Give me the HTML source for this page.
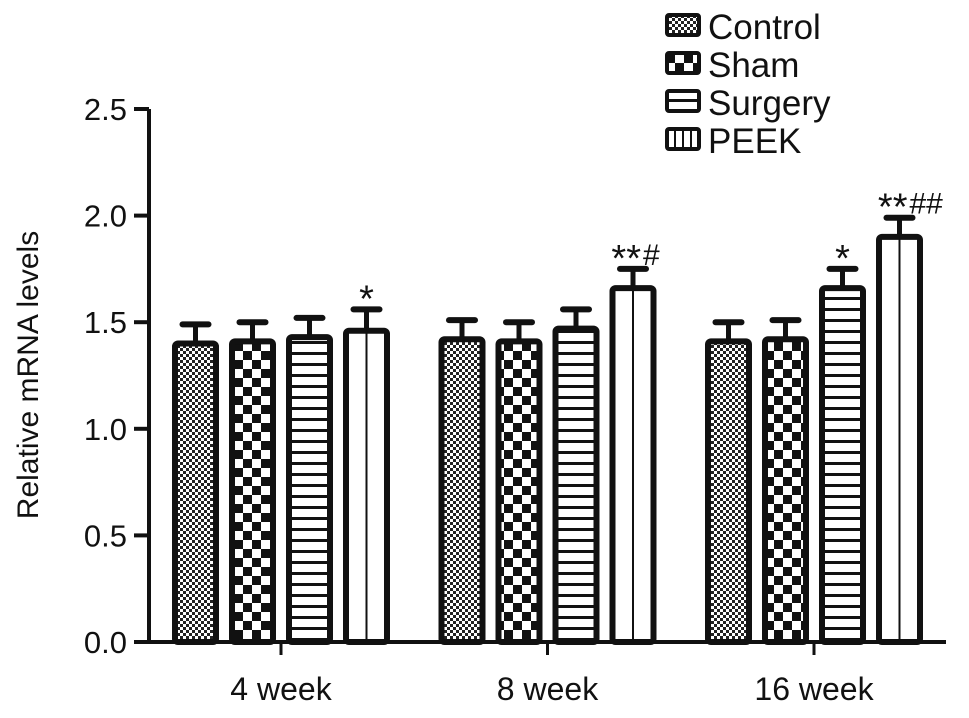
<!DOCTYPE html>
<html><head><meta charset="utf-8"><style>
body{margin:0;background:#fff}
svg text{font-family:"Liberation Sans",Arial,sans-serif;fill:#111}
</style></head><body>
<svg id="chart" width="969" height="713" viewBox="0 0 969 713" xmlns="http://www.w3.org/2000/svg">
<defs>
<pattern id="p0" width="6" height="6" patternUnits="userSpaceOnUse"><rect width="6" height="6" fill="#fff"/><rect x="0" y="0" width="3" height="3" fill="#222"/><rect x="3" y="3" width="3" height="3" fill="#222"/></pattern>
<pattern id="p1" width="18" height="18" patternUnits="userSpaceOnUse"><rect width="18" height="18" fill="#fff"/><rect x="0" y="0" width="9" height="9" fill="#111"/><rect x="9" y="9" width="9" height="9" fill="#111"/></pattern>
<pattern id="p2" width="10" height="11" patternUnits="userSpaceOnUse"><rect width="10" height="11" fill="#fff"/><rect x="0" y="0" width="10" height="3" fill="#111"/></pattern>
<pattern id="p3" width="12" height="10" patternUnits="userSpaceOnUse"><rect width="12" height="10" fill="#fff"/><rect x="0" y="0" width="3" height="10" fill="#111"/></pattern>
</defs>
<g id="axes"></g>
<g id="bars"></g>
<g id="legend"></g>
<text transform="translate(38,375) rotate(-90)" text-anchor="middle" font-size="30">Relative mRNA levels</text>
</svg>
<script>
const categories = ["4 week","8 week","16 week"];
const series = ["Control","Sham","Surgery","PEEK"];
const control = [1.40,1.42,1.41];
const sham = [1.41,1.41,1.42];
const surgery = [1.43,1.47,1.66];
const peek = [1.46,1.66,1.90];
const controlErr = [0.09,0.09,0.09];
const shamErr = [0.09,0.09,0.09];
const surgeryErr = [0.09,0.09,0.09];
const peekErr = [0.10,0.09,0.09];
const yTicks = ["0.0","0.5","1.0","1.5","2.0","2.5"];
const annotations = [["","","","*"],["","","","**#"],["","","*","**##"]];

const NS="http://www.w3.org/2000/svg";
function mk(tag,attrs,parent){const e=document.createElementNS(NS,tag);for(const k in attrs)e.setAttribute(k,attrs[k]);parent.appendChild(e);return e;}
const y0=642, yPer=213.2;
function yScale(v){return y0-v*yPer;}
const groupStart=175, groupStride=266.5, barStride=57, barW=41;
function xScale(g,s){return groupStart+g*groupStride+s*barStride;}
const axes=document.getElementById('axes'), bars=document.getElementById('bars'), legend=document.getElementById('legend');

let l=mk('line',{x1:149,y1:yScale(2.5),x2:149,y2:y0,stroke:'#111','stroke-width':4},axes);


l=mk('line',{x1:147,y1:y0,x2:946,y2:y0,stroke:'#111','stroke-width':4},axes);


yTicks.forEach((t,i)=>{const v=parseFloat(t);const y=yScale(v);
 let tk=mk('line',{x1:134,y1:y,x2:149,y2:y,stroke:'#111','stroke-width':4},axes);
 
 
 let tx=mk('text',{x:127,y:y+11,'text-anchor':'end','font-size':31},axes);tx.textContent=t;
 
 
});
const vals=[control,sham,surgery,peek], errs=[controlErr,shamErr,surgeryErr,peekErr];
categories.forEach((c,g)=>{
 const cx=(xScale(g,0)+xScale(g,3)+barW)/2;
 let tk=mk('line',{x1:cx,y1:y0,x2:cx,y2:y0+13,stroke:'#111','stroke-width':3},axes);
 
 
 let tx=mk('text',{x:cx,y:700,'text-anchor':'middle','font-size':32},axes);tx.textContent=c;
 
 
 series.forEach((s,i)=>{
  const x=xScale(g,i), v=vals[i][g], e=errs[i][g], yt=yScale(v), ye=yScale(v+e), mx=x+barW/2;
  let el=mk('line',{x1:mx,y1:yt,x2:mx,y2:ye,stroke:'#111','stroke-width':5},bars);
  
  
  el=mk('line',{x1:mx-13,y1:ye,x2:mx+13,y2:ye,stroke:'#111','stroke-width':6,'stroke-linecap':'round'},bars);
  
  
  let r=mk('rect',{x:x,y:yt,width:barW,height:y0-yt,rx:3,fill:i===3?'#fff':'url(#p'+i+')',stroke:'#111','stroke-width':6},bars);
  
  
  if(i===3){let m=mk('line',{x1:mx,y1:yt,x2:mx,y2:y0,stroke:'#111','stroke-width':2},bars);
   
   }
  const a=annotations[g][i];
  if(a){const stars=a.replace(/#/g,''), hashes=a.replace(/\*/g,'');
   let t=mk('text',{x:hashes?mx+8:mx,y:ye+2,'text-anchor':hashes?'end':'middle','font-size':38},bars);t.textContent=stars;
   
   
   if(hashes){let h=mk('text',{x:mx+10,y:ye-4,'text-anchor':'start','font-size':30},bars);h.textContent=hashes;
    
    }
  }
 });
});
series.forEach((s,i)=>{const y=15+i*38;
 let r=mk('rect',{x:667,y:y,width:32,height:20,rx:2,fill:i===3?'#fff':'url(#p'+i+')',stroke:'#111','stroke-width':4},legend);
 
 
 if(i===3){[675,683,691].forEach(xx=>{let m=mk('line',{x1:xx,y1:y,x2:xx,y2:y+20,stroke:'#111','stroke-width':2},legend);
  
  });}
 let t=mk('text',{x:708,y:y+24,'font-size':35},legend);t.textContent=s;
 
 
});
</script>
</body></html>
